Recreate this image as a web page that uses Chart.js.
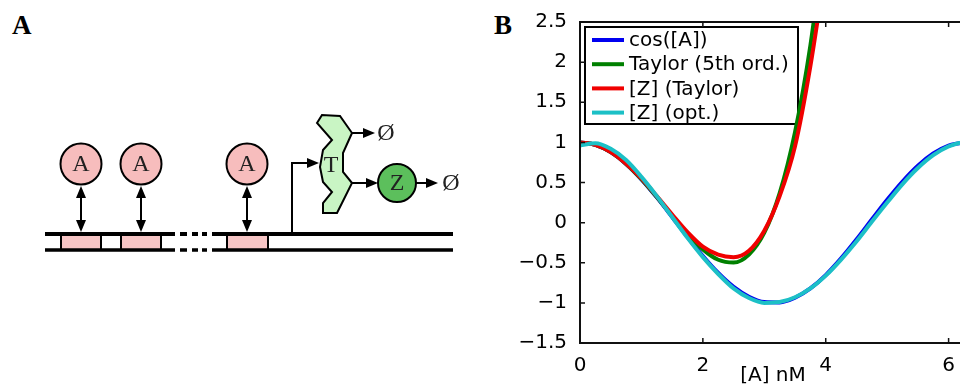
<!DOCTYPE html>
<html>
<head>
<meta charset="utf-8">
<script src="https://cdn.jsdelivr.net/npm/chart.js@4.4.1/dist/chart.umd.min.js"></script>
<style>
  html, body { margin: 0; padding: 0; background: #fff; overflow: hidden; width: 960px; height: 387px; }
  #diagram { position: absolute; left: 0; top: 0; }
  #plot { position: absolute; left: 480px; top: 0; width: 486px; height: 387px; }
  .panel { position: absolute; top: 12px; font: bold 27px "Liberation Serif"; line-height: 1; color: #000; }
</style>
</head>
<body>
<div class="panel" style="left:12px">A</div>
<div class="panel" style="left:494px">B</div>
<canvas id="diagram" width="480" height="387"></canvas>
<div id="plot"><canvas id="chart"></canvas></div>
<script>
// values
const aValues = [0, 0.25, 0.5, 0.75, 1, 1.25, 1.5, 1.75, 2, 2.25, 2.5, 2.75, 3, 3.25, 3.5, 3.75, 4,
                 4.25, 4.5, 4.75, 5, 5.25, 5.5, 5.75, 6, 6.25, 6.28];
const cosValues = [1, 0.969, 0.878, 0.732, 0.54, 0.315, 0.071, -0.178, -0.416, -0.628, -0.801, -0.924, -0.99,
                   -0.994, -0.936, -0.82, -0.654, -0.446, -0.211, 0.038, 0.284, 0.512, 0.709, 0.861, 0.96, 0.999, 1.0];
const taylorValues = [1, 0.969, 0.878, 0.732, 0.542, 0.32, 0.086, -0.14, -0.333, -0.463, -0.497, -0.398, -0.125,
                      0.368, 1.128, 2.208, 3.667];
const zTaylorValues = [1, 0.97, 0.88, 0.735, 0.55, 0.33, 0.1, -0.12, -0.3, -0.4, -0.43, -0.35, -0.1,
                       0.33, 0.95, 1.95, 3.2];
const zOptValues = [0.96, 0.99, 0.92, 0.78, 0.57, 0.33, 0.07, -0.19, -0.43, -0.64, -0.82, -0.94, -1.0,
                    -0.99, -0.93, -0.82, -0.66, -0.46, -0.235, 0.01, 0.25, 0.48, 0.68, 0.84, 0.95, 1.0, 1.0];
const seriesLabels = ['cos([A])', 'Taylor (5th ord.)', '[Z] (Taylor)', '[Z] (opt.)'];
const xTicks = [0, 2, 4, 6];
const yTicks = [-1.5, -1, -0.5, 0, 0.5, 1, 1.5, 2, 2.5];

// ---- panel A: the circuit sketch ----
const d = document.getElementById('diagram').getContext('2d');

function head(x, y, ang) {
  d.save();
  d.translate(x, y);
  d.rotate(ang);
  d.beginPath();
  d.moveTo(0, 0);
  d.lineTo(-12, -5);
  d.lineTo(-12, 5);
  d.closePath();
  d.fillStyle = '#000';
  d.fill();
  d.restore();
}

function circle(x, y, r, fill, label) {
  d.beginPath();
  d.arc(x, y, r, 0, 2 * Math.PI);
  d.fillStyle = fill;
  d.fill();
  d.lineWidth = 2;
  d.strokeStyle = '#000';
  d.stroke();
  d.fillStyle = '#222';
  d.font = '24px "Liberation Serif"';
  d.textAlign = 'center';
  d.textBaseline = 'middle';
  d.fillText(label, x, y + 1);
}

function strand(y, w) {
  d.lineWidth = w;
  d.strokeStyle = '#000';
  d.beginPath();
  d.moveTo(45, y); d.lineTo(175, y);
  d.moveTo(212, y); d.lineTo(453, y);
  [[180, 187], [192, 198], [202, 207]].forEach(([a, b]) => { d.moveTo(a, y); d.lineTo(b, y); });
  d.stroke();
}

// binding sites
[[61, 101], [121, 161], [227, 268]].forEach(([a, b]) => {
  d.fillStyle = '#f6c4c4';
  d.fillRect(a, 235, b - a, 14);
  d.lineWidth = 2;
  d.strokeStyle = '#000';
  d.beginPath();
  d.moveTo(a, 234); d.lineTo(a, 250);
  d.moveTo(b, 234); d.lineTo(b, 250);
  d.stroke();
});
strand(234, 4);
strand(250, 3.5);

// A molecules with double arrows
[81, 141, 247].forEach(x => {
  circle(x, 164, 20.5, '#f7bdbd', 'A');
  d.lineWidth = 2;
  d.beginPath();
  d.moveTo(x, 194); d.lineTo(x, 224);
  d.stroke();
  head(x, 186, -Math.PI / 2);
  head(x, 232, Math.PI / 2);
});

// promoter arrow
d.lineWidth = 2;
d.beginPath();
d.moveTo(292, 234); d.lineTo(292, 163); d.lineTo(310, 163);
d.stroke();
head(319, 163, 0);

// T
const tShape = [[317, 123], [322, 115], [340, 116], [352, 133], [343, 153], [343, 172], [352, 183], [342, 203],
                [337, 213], [323, 213], [323, 203], [332, 192], [323, 182], [320, 167], [323, 150], [332, 140]];
d.beginPath();
tShape.forEach(([x, y], i) => i ? d.lineTo(x, y) : d.moveTo(x, y));
d.closePath();
d.fillStyle = '#c9f5c4';
d.fill();
d.lineWidth = 2;
d.stroke();
d.fillStyle = '#222';
d.font = '24px "Liberation Serif"';
d.textAlign = 'center';
d.textBaseline = 'middle';
d.fillText('T', 331, 166);

// degradation + Z
d.lineWidth = 2;
d.beginPath();
d.moveTo(352, 133); d.lineTo(366, 133);
d.moveTo(352, 183); d.lineTo(370, 183);
d.moveTo(416, 183); d.lineTo(429, 183);
d.stroke();
head(375, 133, 0);
head(378, 183, 0);
head(438, 183, 0);
circle(397, 183, 19, '#5cbf5c', 'Z');
d.fillStyle = '#222';
d.font = '24px "Liberation Serif"';
d.fillText('Ø', 386, 134);
d.fillText('Ø', 451, 184);

// ---- panel B ----
const toPoints = (ys) => ys.map((y, i) => ({ x: aValues[i], y: y }));

const boxPlugin = {
  id: 'box',
  beforeDatasetsDraw(chart) {
    const ctx = chart.ctx;
    const left = 585, top = 27, right = 798, bottom = 124;
    ctx.save();
    ctx.lineWidth = 2;
    ctx.strokeStyle = '#000';
    ctx.strokeRect(left - 480, top, right - left, bottom - top);
    ctx.font = '20px "DejaVu Sans"';
    ctx.textBaseline = 'middle';
    ctx.textAlign = 'left';
    chart.data.datasets.forEach((ds, i) => {
      const y = 40 + i * 24.2;
      ctx.strokeStyle = ds.borderColor;
      ctx.lineWidth = 4;
      ctx.beginPath();
      ctx.moveTo(592 - 480, y); ctx.lineTo(624 - 480, y);
      ctx.stroke();
      ctx.fillStyle = '#000';
      ctx.fillText(ds.label, 629 - 480, y + 1);
    });
    ctx.restore();
  },
  afterDatasetsDraw(chart) {
    const ctx = chart.ctx;
    const { left, right, top, bottom } = chart.chartArea;
    const xs = chart.scales.x, ys = chart.scales.y;
    ctx.save();
    ctx.strokeStyle = '#111';
    ctx.lineWidth = 2;
    ctx.strokeRect(left, top, right - left, bottom - top);
    ctx.lineWidth = 1.5;
    ctx.beginPath();
    xTicks.forEach(v => {
      const px = xs.getPixelForValue(v);
      ctx.moveTo(px, bottom); ctx.lineTo(px, bottom - 5);
      ctx.moveTo(px, top); ctx.lineTo(px, top + 5);
    });
    yTicks.forEach(v => {
      const py = ys.getPixelForValue(v);
      ctx.moveTo(left, py); ctx.lineTo(left + 5, py);
      ctx.moveTo(right, py); ctx.lineTo(right - 5, py);
    });
    ctx.stroke();
    ctx.restore();
  }
};

Chart.defaults.font.family = '"DejaVu Sans"';
Chart.defaults.font.size = 20;
Chart.defaults.color = '#000';

const common = { borderWidth: 4, pointRadius: 0, fill: false, cubicInterpolationMode: 'monotone' };

new Chart(document.getElementById('chart'), {
  type: 'line',
  data: {
    datasets: [
      { ...common, label: seriesLabels[0], data: toPoints(cosValues), borderColor: '#0000f0', order: 4 },
      { ...common, label: seriesLabels[1], data: toPoints(taylorValues), borderColor: '#008000', order: 3 },
      { ...common, label: seriesLabels[2], data: toPoints(zTaylorValues), borderColor: '#f00000', order: 2 },
      { ...common, label: seriesLabels[3], data: toPoints(zOptValues), borderColor: '#1cc0c6', order: 1 }
    ]
  },
  options: {
    responsive: true,
    maintainAspectRatio: false,
    animation: false,
    layout: { padding: { top: 22, right: 0, bottom: 0, left: 0 } },
    plugins: { legend: { display: false }, tooltip: { enabled: false } },
    scales: {
      x: {
        type: 'linear',
        min: 0,
        max: 6.2832,
        grid: { display: false },
        border: { display: false },
        afterBuildTicks: s => { s.ticks = xTicks.map(v => ({ value: v })); },
        afterFit: s => { s.height = 44; },
        ticks: { padding: 3, maxRotation: 0, callback: v => String(v) },
        title: { display: true, text: '[A] nM', padding: { top: 0, bottom: -1 } }
      },
      y: {
        min: -1.5,
        max: 2.5,
        grid: { display: false },
        border: { display: false },
        afterBuildTicks: s => { s.ticks = yTicks.map(v => ({ value: v })); },
        afterFit: s => { s.width = 100; },
        ticks: { padding: 5, callback: v => String(v).replace('-', '\u2212') }
      }
    }
  },
  plugins: [boxPlugin]
});
</script>
</body>
</html>
